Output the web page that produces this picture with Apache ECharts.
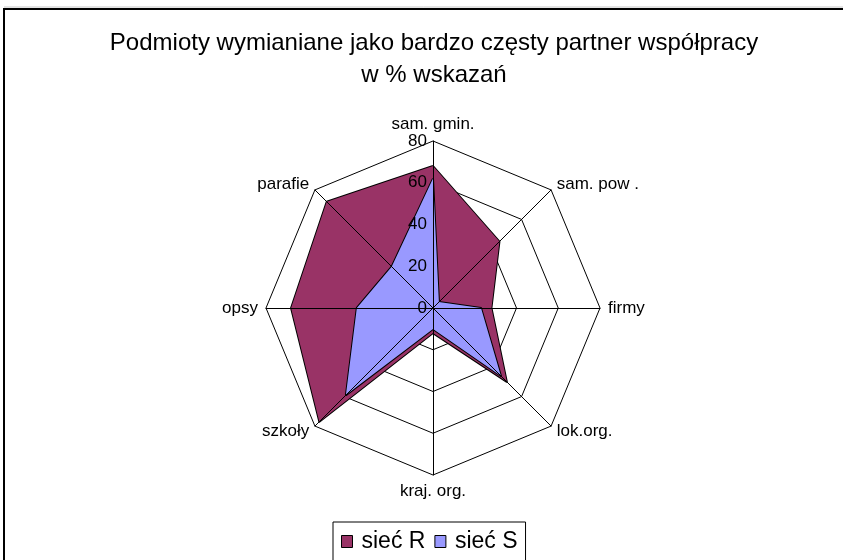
<!DOCTYPE html>
<html>
<head>
<meta charset="utf-8">
<script src="https://cdn.jsdelivr.net/npm/echarts@6/dist/echarts.min.js"></script>
<style>
html, body { margin: 0; padding: 0; background: #fff; }
#chart { width: 843px; height: 560px; }
</style>
</head>
<body>
<div id="chart"></div>
<script>
// kategorie w kolejnosci jak na wykresie (zgodnie z ruchem wskazowek zegara)
var categories = ['sam. gmin.', 'sam. pow .', 'firmy', 'lok.org.', 'kraj. org.', 'szkoły', 'opsy', 'parafie'];
var siecR = [68, 45, 28, 50, 12, 77, 68, 72];
var siecS = [62, 4, 23, 46, 10, 59, 36.5, 28];
var seriesNames = ['sieć R', 'sieć S'];
var maxVal = 80;

var font = '"Liberation Sans", Arial, sans-serif';

// echarts kladzie osie przeciwnie do ruchu wskazowek, wiec odwracamy reszte
function reorder(arr) {
    return [arr[0]].concat(arr.slice(1).reverse());
}

var chart = echarts.init(document.getElementById('chart'));

var indicatorsBase = reorder(categories).map(function (c) {
    return { name: c, max: maxVal, min: 0 };
});
var indicatorsTop = reorder(categories).map(function (c, i) {
    var o = { name: c, max: maxVal, min: 0 };
    if (i === 0) o.axisLabel = { show: true };
    return o;
});

var option = {
    animation: false,
    title: {
        text: 'Podmioty wymianiane jako bardzo częsty partner współpracy\nw % wskazań',
        left: 434,
        textAlign: 'center',
        top: 27,
        padding: 0,
        textStyle: {
            fontFamily: font,
            fontSize: 24,
            fontWeight: 'normal',
            color: '#000',
            lineHeight: 32
        }
    },
    legend: {
        data: seriesNames,
        left: 333,
        top: 522,
        orient: 'horizontal',
        padding: [8, 8, 30, 8],
        borderColor: '#000',
        borderWidth: 1,
        itemWidth: 11,
        itemHeight: 12,
        itemGap: 9,
        icon: 'rect',
        itemStyle: { borderColor: '#000', borderWidth: 1 },
        textStyle: { fontFamily: font, fontSize: 23, color: '#000', padding: [0, 0, 0, 4] }
    },
    graphic: [{
        type: 'rect',
        shape: { x: 4, y: 9, width: 850, height: 570 },
        style: { fill: 'none', stroke: '#000', lineWidth: 2 },
        z: -1
    }, {
        type: 'line',
        shape: { x1: 4, y1: 7, x2: 843, y2: 7 },
        style: { stroke: '#c8c8c8', lineWidth: 1 },
        z: -1
    }],
    radar: [{
        center: [433, 308],
        radius: 167,
        shape: 'polygon',
        startAngle: 90,
        splitNumber: 4,
        indicator: indicatorsBase,
        nameGap: 8,
        axisName: { color: '#000', fontFamily: font, fontSize: 17 },
        splitLine: { lineStyle: { color: '#000', width: 1 } },
        splitArea: { show: false },
        axisLine: { show: false },
        axisTick: { show: false },
        axisLabel: { show: false },
        z: 0
    }, {
        center: [433, 308],
        radius: 167,
        shape: 'polygon',
        startAngle: 90,
        splitNumber: 4,
        indicator: indicatorsTop,
        axisName: { show: false },
        splitLine: { show: false },
        splitArea: { show: false },
        axisLine: { lineStyle: { color: '#000', width: 1 } },
        axisTick: { show: false },
        axisLabel: { show: false, color: '#000', fontFamily: font, fontSize: 17, margin: 6 },
        z: 5
    }],
    series: [{
        type: 'radar',
        radarIndex: 0,
        symbol: 'none',
        lineStyle: { color: '#000', width: 2 },
        areaStyle: { opacity: 1 },
        data: [{
            name: seriesNames[0],
            value: reorder(siecR),
            itemStyle: { color: '#993366' },
            areaStyle: { color: '#993366', opacity: 1 },
            lineStyle: { color: '#000', width: 2 }
        }, {
            name: seriesNames[1],
            value: reorder(siecS),
            itemStyle: { color: '#9999FF' },
            areaStyle: { color: '#9999FF', opacity: 1 },
            lineStyle: { color: '#000', width: 2 }
        }]
    }]
};

chart.setOption(option);
</script>
</body>
</html>
